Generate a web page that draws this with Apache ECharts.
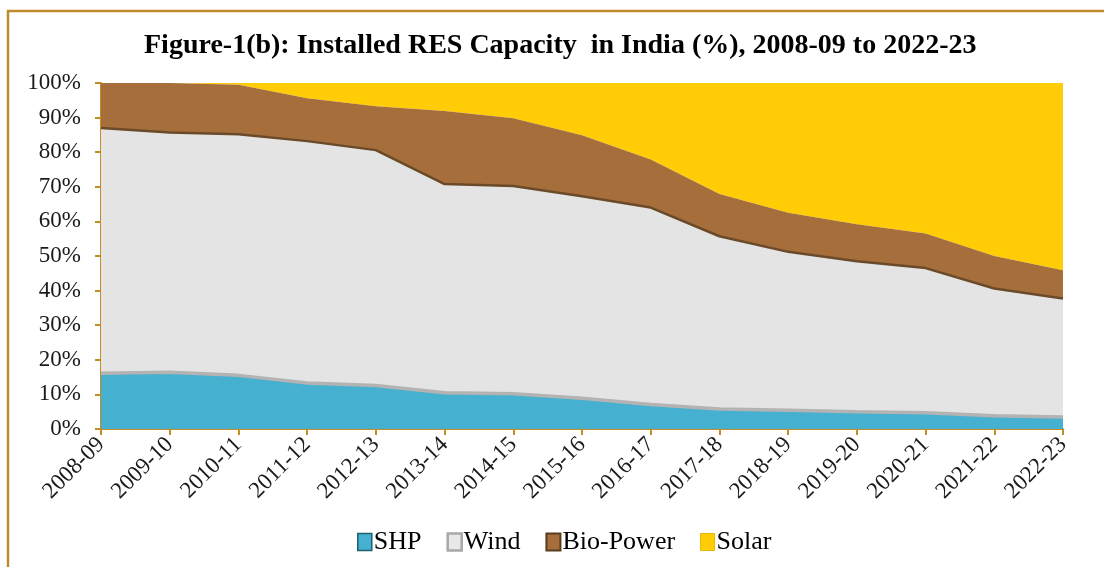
<!DOCTYPE html>
<html>
<head>
<meta charset="utf-8">
<script src="https://cdn.jsdelivr.net/npm/echarts@6/dist/echarts.min.js"></script>
<style>html,body{margin:0;padding:0;background:#fff;}#c{width:1104px;height:567px;}</style>
</head>
<body>
<div id="c"></div>
<script>
const categories = ['2008-09','2009-10','2010-11','2011-12','2012-13','2013-14','2014-15','2015-16','2016-17','2017-18','2018-19','2019-20','2020-21','2021-22','2022-23'];
const shp   = [16.1, 16.4, 15.5, 13.3, 12.6, 10.5, 10.2, 8.9, 7.1, 5.8, 5.4, 5.0, 4.7, 3.8, 3.5];
const wind  = [70.9, 69.3, 69.7, 69.9, 68.0, 60.3, 60.0, 58.4, 56.9, 49.9, 45.8, 43.5, 41.8, 36.8, 34.2];
const bio   = [13.0, 14.3, 14.3, 12.4, 12.7, 21.1, 19.6, 17.6, 13.9, 12.2, 11.3, 10.7, 10.0, 9.4, 8.2];
const solar = [0, 0, 0.5, 4.4, 6.7, 8.1, 10.2, 15.1, 22.1, 32.1, 37.5, 40.8, 43.5, 50.0, 54.1];
const yTicks = [0, 10, 20, 30, 40, 50, 60, 70, 80, 90, 100];

const FONT = '"Liberation Serif", "Times New Roman", serif';
const AXIS = '#c48c22';
const chart = echarts.init(document.getElementById('c'), null, {renderer: 'canvas'});

function areaSeries(name, data, fill, line, lineW, z) {
  return {
    name: name, type: 'line', stack: 'total', data: data,
    symbol: 'none', smooth: false, z: z,
    lineStyle: {color: line, width: lineW},
    areaStyle: {color: fill, opacity: 1},
    itemStyle: {color: fill},
    emphasis: {disabled: true}
  };
}

chart.setOption({
  animation: false,
  backgroundColor: '#fff',
  graphic: [{
    type: 'rect', shape: {x: 8, y: 11, width: 1200, height: 700},
    style: {fill: 'none', stroke: '#c08a2e', lineWidth: 2.5}, z: -10, silent: true
  }],
  title: {
    text: 'Figure-1(b): Installed RES Capacity  in India (%), 2008-09 to 2022-23',
    left: 139, top: 27,
    textStyle: {fontFamily: FONT, fontWeight: 'bold', fontSize: 28, color: '#000'}
  },
  legend: {
    bottom: 7, left: 352,
    itemWidth: 14, itemHeight: 17, itemGap: 25,
    icon: 'rect',
    textStyle: {fontFamily: FONT, fontSize: 26, color: '#000', padding: [0, 0, 0, -3]},
    data: [
      {name: 'SHP', itemStyle: {color: '#45b0cf', borderColor: '#1f5f72', borderWidth: 1.5}},
      {name: 'Wind', itemStyle: {color: '#e8e8e8', borderColor: '#a8a8a8', borderWidth: 2.5}},
      {name: 'Bio-Power', itemStyle: {color: '#a56e3a', borderColor: '#5a3b1c', borderWidth: 2}},
      {name: 'Solar', itemStyle: {color: '#ffcc06', borderColor: '#e6b800', borderWidth: 1}}
    ]
  },
  grid: {left: 101, right: 41, top: 83, bottom: 138, containLabel: false},
  xAxis: {
    type: 'category', data: categories, boundaryGap: false,
    axisLine: {lineStyle: {color: AXIS, width: 2}},
    axisTick: {show: true, length: 6, interval: 0, lineStyle: {color: AXIS, width: 2}},
    axisLabel: {interval: 0, rotate: 45, margin: 12, fontFamily: FONT, fontSize: 23, color: '#1a1a1a'},
    splitLine: {show: false}
  },
  yAxis: {
    type: 'value', min: 0, max: 100, interval: 10,
    axisLine: {show: true, lineStyle: {color: AXIS, width: 2}},
    axisTick: {show: true, length: 6, lineStyle: {color: AXIS, width: 2}},
    axisLabel: {
      margin: 20, fontFamily: FONT, fontSize: 23, color: '#1a1a1a',
      formatter: function (v) { return yTicks.indexOf(v) >= 0 ? v + '%' : ''; }
    },
    splitLine: {show: false}
  },
  series: [
    areaSeries('SHP', shp, '#45b0cf', '#b3b3b3', 3.5, 5),
    areaSeries('Wind', wind, '#e4e4e4', '#6b4a2a', 2.5, 4),
    areaSeries('Bio-Power', bio, '#a56e3a', '#a56e3a', 0, 3),
    areaSeries('Solar', solar, '#ffcc06', '#ffcc06', 0, 2)
  ]
});
</script>
</body>
</html>
